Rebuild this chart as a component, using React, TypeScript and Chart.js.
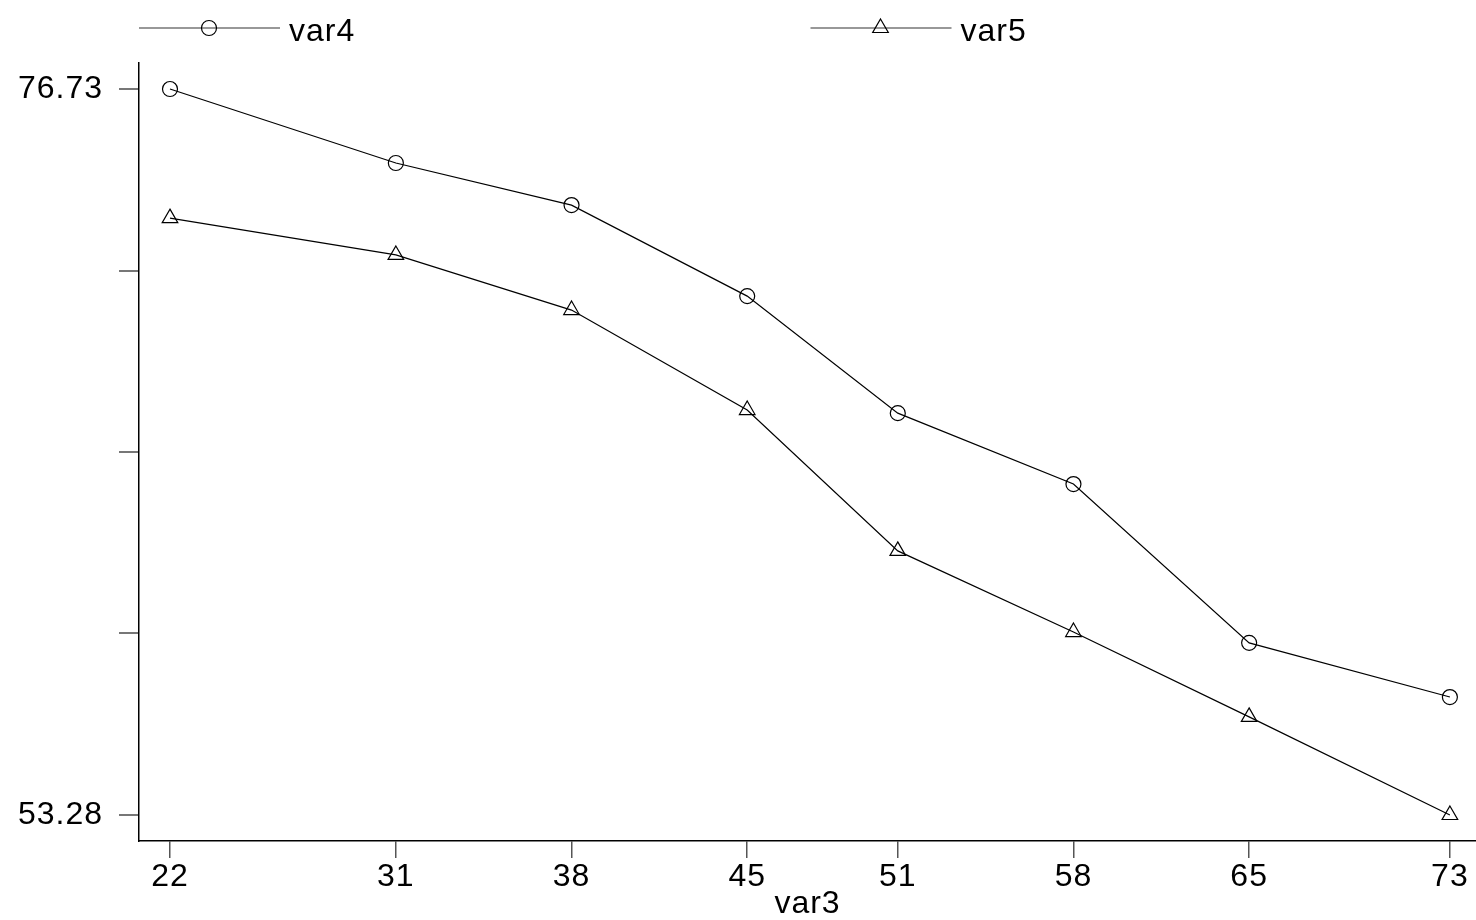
import React, { useEffect, useRef } from "react";
import { Chart, registerables } from "chart.js";
import { drawPoint } from "chart.js/helpers";

Chart.register(...registerables);

const xValues = [22, 31, 38, 45, 51, 58, 65, 73];
const var4 = [76.73, 74.34, 72.98, 70.04, 66.26, 63.97, 58.84, 57.09];
const var5 = [72.56, 71.37, 69.59, 66.36, 61.81, 59.19, 56.45, 53.28];
const xTicks = [22, 31, 38, 45, 51, 58, 65, 73];
const yTicks = [53.28, 59.1425, 65.005, 70.8675, 76.73];
const yLabeled = [53.28, 76.73];
const seriesNames = ["var4", "var5"];
const seriesMarkers = ["circle", "triangle"];
const xTitle = "var3";

const FONT = "'Liberation Sans', Arial, Helvetica, sans-serif";

const legendPlugin = {
  id: "lineMarkerLegend",
  beforeDraw(chart: any) {
    chart.ctx.letterSpacing = "1px";
  },
  afterDraw(chart: any) {
    const ctx = chart.ctx;
    const { left, right } = chart.chartArea;
    const step = (right - left) / 2 + 3;
    const y = 28;
    chart.data.datasets.forEach((ds: any, i: number) => {
      const x0 = left + i * step;
      ctx.save();
      ctx.strokeStyle = "#333";
      ctx.lineWidth = 1.2;
      ctx.beginPath();
      ctx.moveTo(x0, y);
      ctx.lineTo(x0 + 141, y);
      ctx.stroke();
      ctx.strokeStyle = "#000";
      ctx.lineWidth = 1.2;
      ctx.fillStyle = "rgba(0,0,0,0)";
      drawPoint(
        ctx,
        { pointStyle: ds.pointStyle, radius: ds.pointRadius, rotation: 0, borderWidth: 1.2 },
        x0 + 70,
        y
      );
      ctx.fillStyle = "#000";
      ctx.font = `32px ${FONT}`;
      ctx.textAlign = "left";
      ctx.textBaseline = "alphabetic";
      ctx.fillText(ds.label, x0 + 150, 41);
      ctx.restore();
    });
  },
};

export default function App() {
  const ref = useRef<HTMLCanvasElement | null>(null);

  useEffect(() => {
    if (!ref.current) return;
    const mk = (i: number, vals: number[]) => ({
      label: seriesNames[i],
      data: xValues.map((x, k) => ({ x, y: vals[k] })),
      borderColor: "#000",
      borderWidth: 1.2,
      backgroundColor: "rgba(0,0,0,0)",
      pointStyle: seriesMarkers[i],
      pointRadius: seriesMarkers[i] === "circle" ? 7.5 : 9,
      pointBorderColor: "#000",
      pointBorderWidth: 1.2,
      pointBackgroundColor: "rgba(0,0,0,0)",
      tension: 0,
      fill: false,
    });
    const chart = new Chart(ref.current, {
      type: "line",
      data: { datasets: [mk(0, var4), mk(1, var5)] },
      plugins: [legendPlugin],
      options: {
        animation: false,
        responsive: false,
        events: [],
        layout: { autoPadding: false, padding: { top: 63, left: 0, right: 0, bottom: 0 } },
        plugins: { legend: { display: false }, tooltip: { enabled: false } },
        scales: {
          x: {
            type: "linear",
            min: 20.765,
            max: 74.04,
            afterBuildTicks: (s: any) => {
              s.ticks = xTicks.map((v) => ({ value: v }));
            },
            afterFit: (s: any) => {
              s.height = 79;
            },
            border: { display: true, color: "#000", width: 1.5 },
            grid: { drawOnChartArea: false, drawTicks: true, tickLength: 17, color: "#555", lineWidth: 1.5 },
            ticks: {
              color: "#000",
              font: { family: FONT, size: 32 },
              padding: 0,
              maxRotation: 0,
              autoSkip: false,
              callback: (v: any) => String(v),
            },
            title: {
              display: true,
              text: xTitle,
              color: "#000",
              font: { family: FONT, size: 32, lineHeight: 1 },
              padding: { top: 0, bottom: 0 },
            },
          },
          y: {
            type: "linear",
            min: 52.44,
            max: 77.57,
            afterBuildTicks: (s: any) => {
              s.ticks = yTicks.map((v) => ({ value: v }));
            },
            afterFit: (s: any) => {
              s.width = 139;
            },
            border: { display: true, color: "#000", width: 1.5 },
            grid: { drawOnChartArea: false, drawTicks: true, tickLength: 20, color: "#777", lineWidth: 2 },
            ticks: {
              color: "#000",
              font: { family: FONT, size: 32 },
              padding: 16,
              autoSkip: false,
              callback: (v: any) => (yLabeled.includes(Number(v)) ? Number(v).toFixed(2) : ""),
            },
          },
        },
      },
    } as any);
    return () => chart.destroy();
  }, []);

  return (
    <canvas
      ref={ref}
      width={1476}
      height={920}
      style={{ position: "fixed", left: 0, top: 0, width: 1476, height: 920, background: "#fff" }}
    />
  );
}
